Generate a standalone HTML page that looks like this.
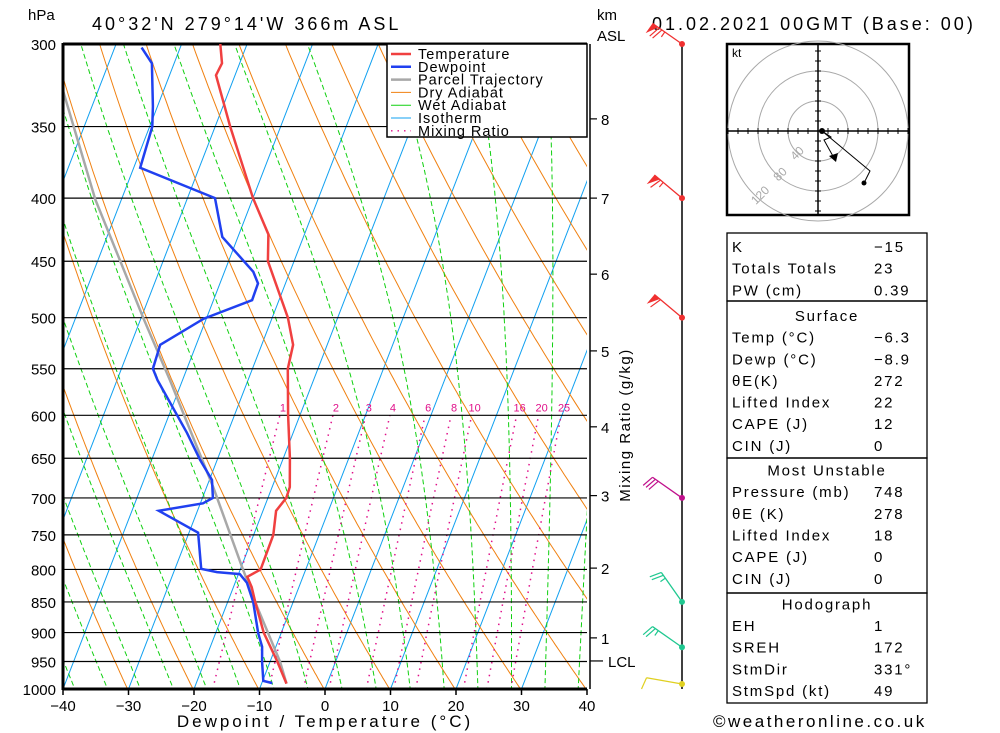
<!DOCTYPE html>
<html><head><meta charset="utf-8"><style>
body{margin:0;background:#fff;}
svg{display:block;font-family:"Liberation Sans",sans-serif;}
</style></head><body>
<svg id="c" width="1000" height="733" viewBox="0 0 1000 733">
<defs><clipPath id="pc"><rect x="63" y="44" width="524" height="645"/></clipPath></defs>
<g id="bg" clip-path="url(#pc)"></g>
<g id="plines"></g>
<g id="profiles" clip-path="url(#pc)"></g>
<g id="axes"></g>
<text x="28" y="20" font-size="15">hPa</text>
<text x="92" y="30" font-size="18" letter-spacing="3">40°32'N 279°14'W 366m ASL</text>
<text x="652" y="30" font-size="18" letter-spacing="3">01.02.2021 00GMT (Base: 00)</text>
<text x="597" y="20" font-size="15">km</text>
<text x="597" y="41" font-size="15">ASL</text>
<text x="325" y="727" font-size="17" text-anchor="middle" letter-spacing="3">Dewpoint / Temperature (°C)</text>
<text transform="translate(630,425) rotate(-90)" font-size="15" text-anchor="middle" letter-spacing="1.5">Mixing Ratio (g/kg)</text>
<g id="legend">
<rect x="387" y="44" width="200" height="93" fill="#fff" stroke="#000" stroke-width="1.5"/>
</g>
<g id="winds"></g>
<g id="hodo"></g>
<g id="table"></g>
<text x="713" y="727" font-size="17" letter-spacing="2.5">©weatheronline.co.uk</text>
</svg>
<script>
// ---- data ----
const pressureLevels=[300,350,400,450,500,550,600,650,700,750,800,850,900,950,1000];
const tempTicks=[-40,-30,-20,-10,0,10,20,30,40];
const tempP=[990,950,900,850,827,811,800,750,717,700,686,650,600,550,526,500,450,428,400,350,318,311,300];
const tempT=[-6.2,-8.9,-12.7,-15.8,-17.2,-18.5,-16.9,-17.0,-18.0,-17.2,-17.3,-19.0,-21.8,-24.6,-25.2,-27.6,-34.0,-35.5,-40.0,-47.7,-52.9,-52.7,-54.1];
const dewP=[989,985,951,924,901,850,820,807,804,799,747,717,707,700,677,652,620,562,550,526,501,484,469,459,430,400,378,350,337,311,302];
const dewT=[-8.4,-9.9,-11.2,-12.1,-13.5,-16.1,-18.2,-19.8,-23.4,-26.0,-28.6,-35.9,-29.6,-28.4,-29.6,-32.6,-36.2,-43.8,-45.2,-45.5,-40.4,-34.1,-34.2,-35.6,-42.4,-45.8,-59.0,-59.6,-60.7,-63.4,-65.9];
const parcelP=[990,950,858,796,686,562,500,401,327];
const parcelT=[-6.2,-8.5,-15.2,-19.9,-29.0,-41.9,-49.7,-64.0,-75.4];
const mixRatios=[1,2,3,4,6,8,10,16,20,25];
const mixLabels=["1","2","3","4","6","8","10","16","20","25"];
const kmLabels=["8","7","6","5","4","3","2","1","LCL"];
const kmPress=[345,400,461,532,613,697,798,909,949];
const windP=[300,400,500,700,850,925,1000];
const windDir=[305,310,310,305,325,305,280];
const windSpd=[75,65,60,30,25,25,10];
const windCol=["#f03030","#f03030","#f03030","#c0108c","#20c890","#20c890","#e0d020"];
const tableRows=[["K","\u221215"],["Totals Totals","23"],["PW (cm)","0.39"],["Surface",""],["Temp (°C)","\u22126.3"],["Dewp (°C)","\u22128.9"],["θE(K)","272"],["Lifted Index","22"],["CAPE (J)","12"],["CIN (J)","0"],["Most Unstable",""],["Pressure (mb)","748"],["θE (K)","278"],["Lifted Index","18"],["CAPE (J)","0"],["CIN (J)","0"],["Hodograph",""],["EH","1"],["SREH","172"],["StmDir","331°"],["StmSpd (kt)","49"]];
// ---- scales ----
const NS="http://www.w3.org/2000/svg";
function yP(p){return 689-Math.log(1000/p)/Math.log(1000/300)*645;}
function xT(T,p){return 63+(T+40)*6.55+(689-yP(p))*0.387;}
function mk(tag,at,parent){const e=document.createElementNS(NS,tag);for(const k in at)e.setAttribute(k,at[k]);parent.appendChild(e);return e;}
function pathFrom(ps,ts){return ps.map((p,i)=>(i?'L':'M')+xT(ts[i],p).toFixed(1)+','+yP(p).toFixed(1)).join('');}
const bg=document.getElementById('bg');
const plist=[];for(let p=1050;p>=280;p-=5)plist.push(p);
for(let T=-130;T<=40;T+=10){
 const l=mk('line',{x1:xT(T,1050),y1:yP(1050),x2:xT(T,280),y2:yP(280),stroke:'#10a0f0','stroke-width':1},bg);
 
 
}
for(let th=203;th<=493;th+=10){
 const ts=plist.map(p=>th*Math.pow(p/1000,0.2857)-273.15);
 const l=mk('path',{d:pathFrom(plist,ts),fill:'none',stroke:'#f08010','stroke-width':1},bg);
 
 
}
function es(T){return 6.112*Math.exp(17.67*T/(T+243.5));}
for(let T0=-45;T0<=45;T0+=5){
 let T=T0+273.15;const ps=[],ts=[];
 for(let p=1050;p>=280;p-=2){
  ps.push(p);ts.push(T-273.15);
  const rs=0.622*es(T-273.15)/(p-es(T-273.15));
  const dTdp=(287*T+2.5e6*rs)/(1004+2.5e6*2.5e6*rs*0.622/(287*T*T))/p;
  T-=dTdp*2;
 }
 const l=mk('path',{d:pathFrom(ps,ts),fill:'none',stroke:'#10d010','stroke-width':1,'stroke-dasharray':'5,3'},bg);
 
 
}
mixRatios.forEach((w,i)=>{
 const ps=[],ts=[];
 for(let p=1000;p>=600;p-=10){const e=w*p/(622+w);const a=Math.log(e/6.112);ps.push(p);ts.push(243.5*a/(17.67-a));}
 const l=mk('path',{d:pathFrom(ps,ts),fill:'none',stroke:'#e0108a','stroke-width':1.5,'stroke-dasharray':'1.5,5'},bg);
 
 
 const t=mk('text',{x:xT(ts[ts.length-1],600)+3,y:yP(600)-4,'font-size':11,fill:'#e0108a','text-anchor':'middle'},document.getElementById('c'));
 t.textContent=mixLabels[i];
 
 
});
const pl=document.getElementById('plines');
pressureLevels.forEach(p=>{
 const l=mk('line',{x1:63,y1:yP(p),x2:587,y2:yP(p),stroke:'#000','stroke-width':(p==300||p==1000)?3:1.2},pl);
 
 
 const t=mk('text',{x:56,y:yP(p)+6,'font-size':15,'text-anchor':'end'},pl);
 t.textContent=p;
 
 
});
const ax=document.getElementById('axes');
mk('line',{x1:63,y1:43,x2:63,y2:690,stroke:'#000','stroke-width':3},ax);
mk('line',{x1:590,y1:44,x2:590,y2:689,stroke:'#000','stroke-width':1.5},ax);
tempTicks.forEach(T=>{
 const x=63+(T+40)*6.55;
 mk('line',{x1:x,y1:689,x2:x,y2:695,stroke:'#000','stroke-width':1.5},ax);
 const t=mk('text',{x:x,y:711,'font-size':15,'text-anchor':'middle'},ax);
 t.textContent=(T<0?'\u2212':'')+Math.abs(T);
 
 
});
kmLabels.forEach((k,i)=>{
 const y=yP(kmPress[i]);
 mk('line',{x1:590,y1:y,x2:k=='LCL'?603:597,y2:y,stroke:'#000','stroke-width':1.2},ax);
 const t=mk('text',{x:k=='LCL'?608:601,y:y+6,'font-size':15},ax);
 t.textContent=k;
 
 
});
const pr=document.getElementById('profiles');
const pa=mk('path',{d:pathFrom(parcelP,parcelT),fill:'none',stroke:'#a8a8a8','stroke-width':2.5},pr);


const dw=mk('path',{d:pathFrom(dewP,dewT),fill:'none',stroke:'#2040f0','stroke-width':2.5},pr);


const tp=mk('path',{d:pathFrom(tempP,tempT),fill:'none',stroke:'#f04040','stroke-width':2.5},pr);


const lg=document.getElementById('legend');
const lgItems=[["Temperature","#f04040",2.5,""],["Dewpoint","#2040f0",2.5,""],["Parcel Trajectory","#a8a8a8",2.5,""],["Dry Adiabat","#f08010",1,""],["Wet Adiabat","#10d010",1,""],["Isotherm","#10a0f0",1,""],["Mixing Ratio","#e0108a",1.3,"1.5,5"]];
lgItems.forEach((it,i)=>{
 const y=54+i*12.8;
 mk('line',{x1:391,y1:y,x2:411,y2:y,stroke:it[1],'stroke-width':it[2],'stroke-dasharray':it[3]||'none'},lg);
 const t=mk('text',{x:418,y:y+5,'font-size':14.5,'letter-spacing':1},lg);
 t.textContent=it[0];
 
 
});
const wg=document.getElementById('winds');
mk('line',{x1:682,y1:44,x2:682,y2:689,stroke:'#000','stroke-width':1.5},wg);
windP.forEach((p,i)=>{
 const x=682,y=yP(p)-(p==1000?5:0),c=windCol[i];
 const a=(windDir[i])*Math.PI/180;
 const L=36;const dx=Math.sin(a)*L,dy=-Math.cos(a)*L;
 const tx=x+dx,ty=y+dy;
 const g=mk('g',{},wg);
 
 
 mk('line',{x1:x,y1:y,x2:tx,y2:ty,stroke:c,'stroke-width':1.3},g);
 mk('circle',{cx:x,cy:y,r:3,fill:c},g);
 let s=windSpd[i],pos=0;const ux=dx/L,uy=dy/L;
 const fx=uy,fy=-ux;
 while(s>=50){const bx=tx-ux*pos,by=ty-uy*pos;mk('polygon',{points:`${bx},${by} ${bx-ux*7},${by-uy*7} ${bx+fx*12},${by+fy*12}`,fill:c},g);pos+=8;s-=50;}
 while(s>=10){const bx=tx-ux*pos,by=ty-uy*pos;mk('line',{x1:bx,y1:by,x2:bx+fx*12+ux*3,y2:by+fy*12+uy*3,stroke:c,'stroke-width':1.2},g);pos+=3.5;s-=10;}
 if(s>=5){const bx=tx-ux*pos,by=ty-uy*pos;mk('line',{x1:bx,y1:by,x2:bx+fx*6,y2:by+fy*6,stroke:c,'stroke-width':1.2},g);}
});
const hg=document.getElementById('hodo');
mk('rect',{x:727,y:44,width:182,height:171,fill:'#fff',stroke:'#000','stroke-width':2.5},hg);
const cx=818,cy=131;
[30,60,90].forEach(r=>mk('circle',{cx:cx,cy:cy,r:r,fill:'none',stroke:'#a8a8a8','stroke-width':1},hg));
mk('line',{x1:727,y1:cy,x2:909,y2:cy,stroke:'#000','stroke-width':1.5},hg);
mk('line',{x1:cx,y1:44,x2:cx,y2:215,stroke:'#000','stroke-width':1.5},hg);
for(let k=-9;k<=9;k++){if(!k)continue;mk('line',{x1:cx+k*10,y1:cy-3,x2:cx+k*10,y2:cy+3,stroke:'#000'},hg);if(cy+k*10>46&&cy+k*10<213)mk('line',{x1:cx-3,y1:cy+k*10,x2:cx+3,y2:cy+k*10,stroke:'#000'},hg);}
[["40",800,156],["80",783,177],["120",763,198]].forEach(l=>{const t=mk('text',{x:l[1],y:l[2],'font-size':12,fill:'#a8a8a8',transform:`rotate(-45 ${l[1]} ${l[2]})`,'text-anchor':'middle'},hg);t.textContent=l[0];});
const kt=mk('text',{x:732,y:57,'font-size':12},hg);kt.textContent='kt';
mk('polyline',{points:"822,131 831,137 824,140 834,158",fill:'none',stroke:'#000','stroke-width':1},hg);
mk('polygon',{points:"829,156 838,153 836,162",fill:'#000'},hg);
mk('polyline',{points:"822,131 870,171 864,183",fill:'none',stroke:'#000','stroke-width':1},hg);
mk('circle',{cx:864,cy:183,r:2.5,fill:'#000'},hg);
mk('circle',{cx:822,cy:131,r:3,fill:'#000'},hg);
const tb=document.getElementById('table');
[[233,301],[301,458],[458,593],[593,703]].forEach(b=>mk('rect',{x:727,y:b[0],width:200,height:b[1]-b[0],fill:'none',stroke:'#000','stroke-width':1.3},tb));
tableRows.forEach((r,i)=>{
 const y=252+i*21.65+(i>=3?4:0)+(i>=10?3:0)+(i>=16?4:0);
 const hdr=r[1]==='';
 const t=mk('text',{x:hdr?827:732,y:y,'font-size':15,'letter-spacing':1.8,'text-anchor':hdr?'middle':'start'},tb);
 t.textContent=r[0];
 
 
 if(!hdr){const v=mk('text',{x:874,y:y,'font-size':15,'letter-spacing':1.8},tb);v.textContent=r[1];
 
 }
});
</script>
</body></html>
